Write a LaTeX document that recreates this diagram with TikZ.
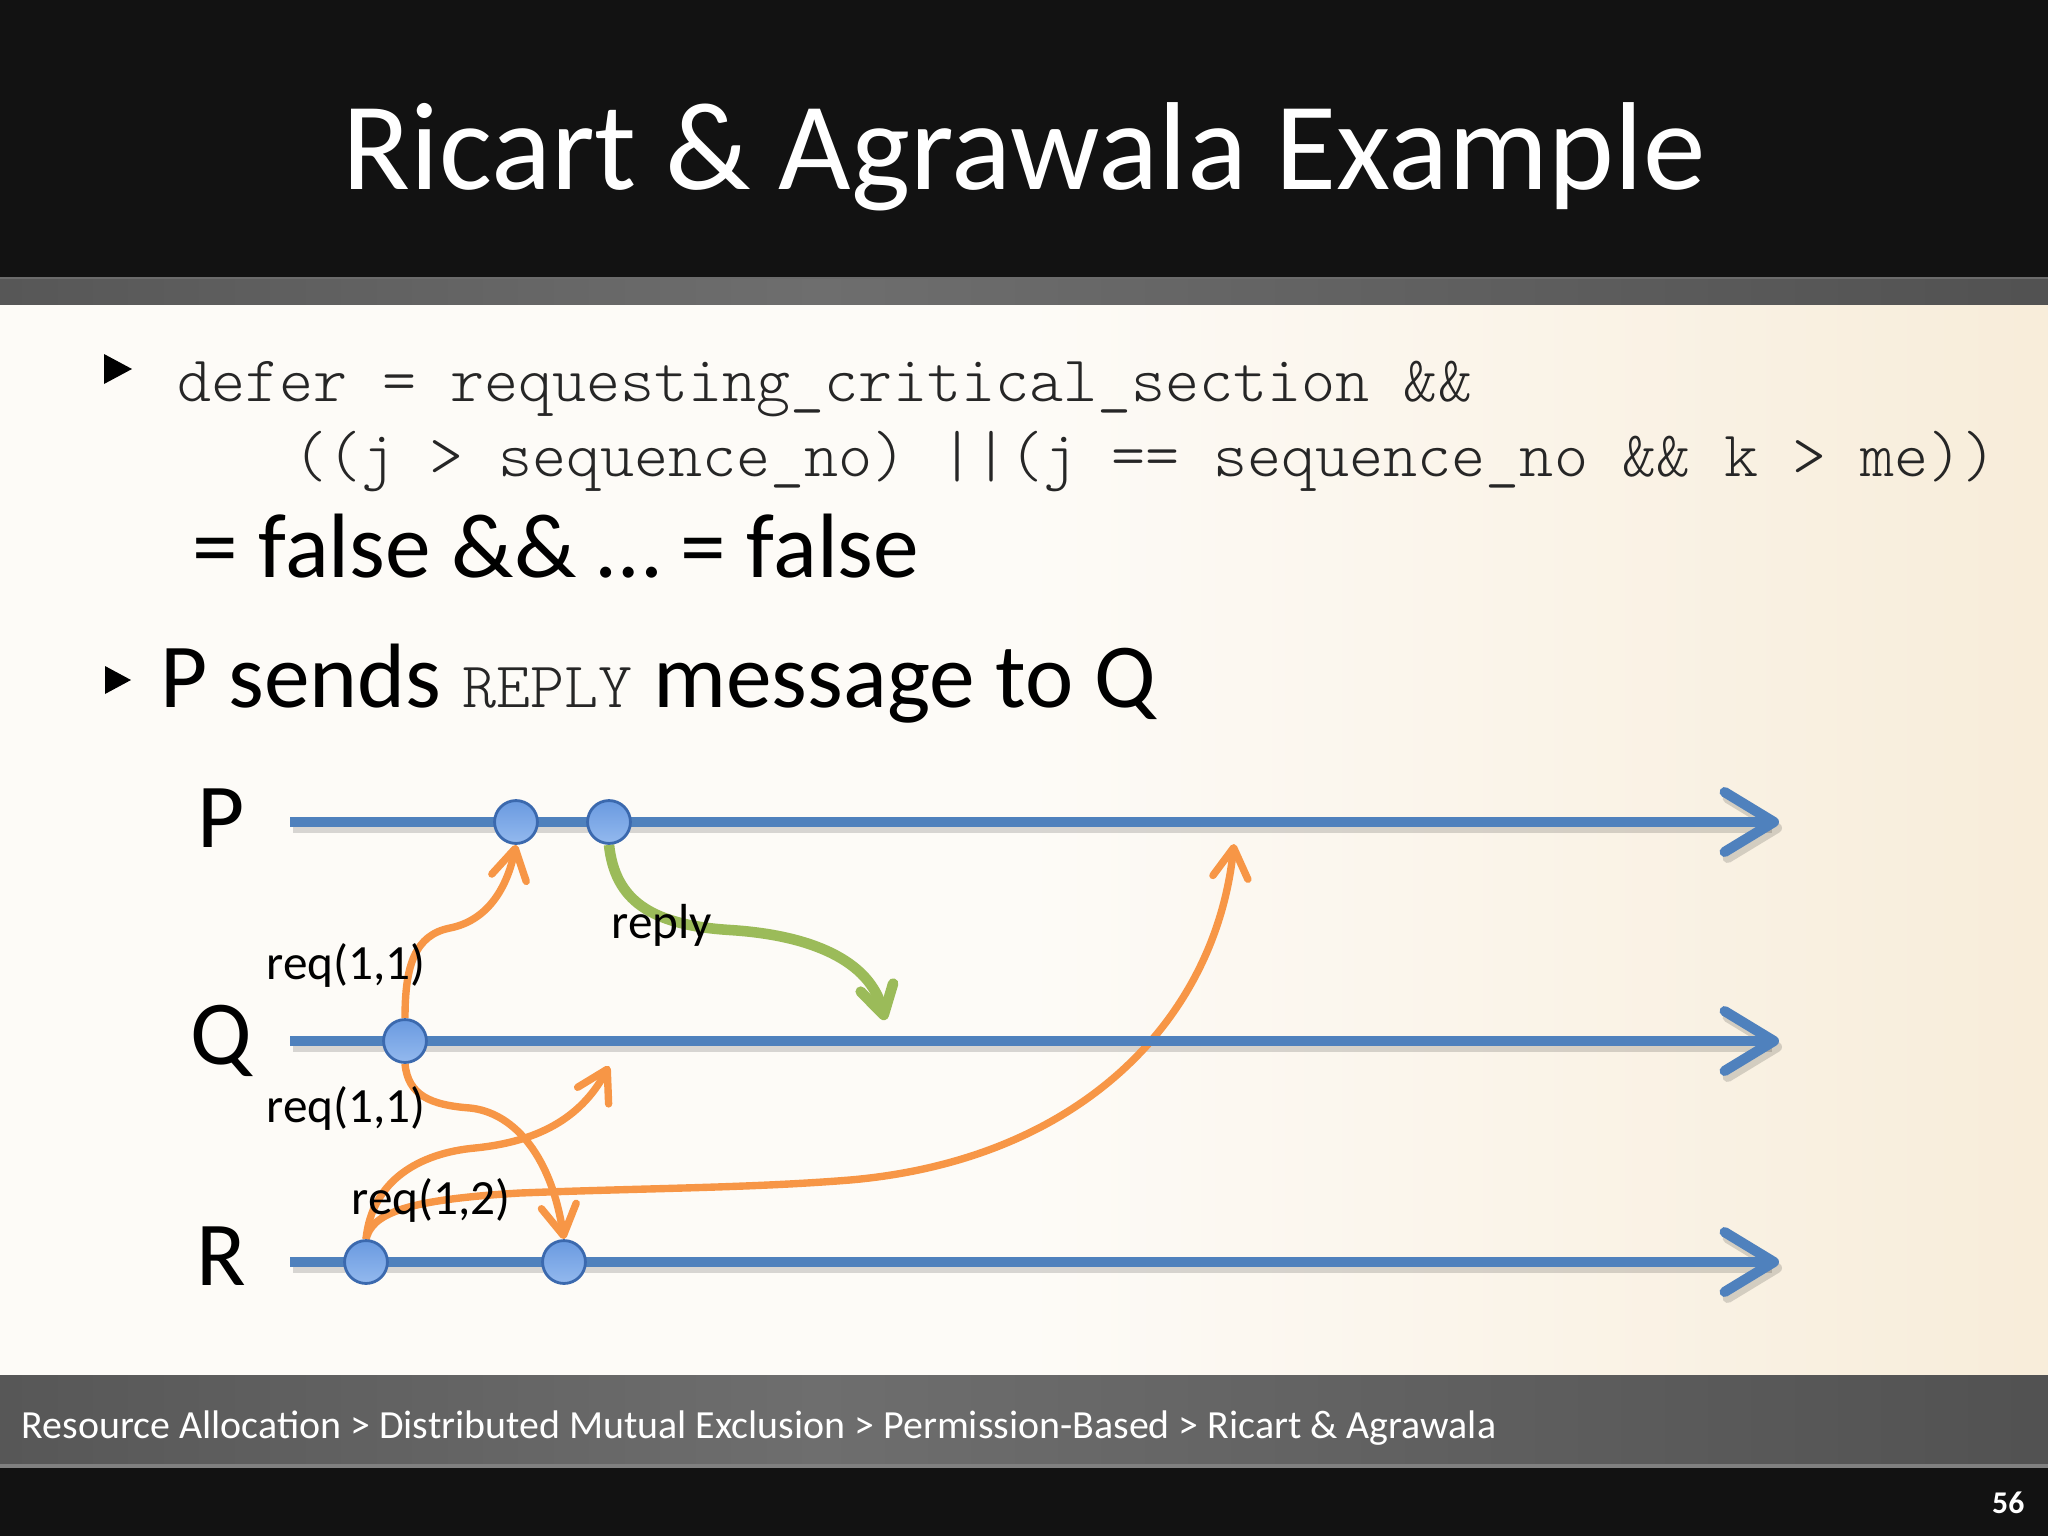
\documentclass[tikz,border=0pt]{standalone}
\usepackage{fontspec}
\setmainfont{Carlito}
\usetikzlibrary{arrows.meta}

\definecolor{tlblue}{HTML}{4F81BD}
\definecolor{arrorange}{HTML}{F79646}
\definecolor{replygreen}{HTML}{9BBB59}
\definecolor{bgL}{HTML}{FDFBF7}
\definecolor{bgR}{HTML}{F2DEBC}
\definecolor{topblack}{HTML}{121212}
\definecolor{barEdge}{HTML}{3A3A3A}
\definecolor{barMid}{HTML}{6E6E6E}
\definecolor{dotTop}{HTML}{6A9AE0}
\definecolor{dotBot}{HTML}{93B9EE}
\definecolor{dotEdge}{HTML}{3B69AE}
\definecolor{codegray}{HTML}{262626}

\pgfdeclarehorizontalshading{contentbg}{100bp}{color(0bp)=(bgL); color(50bp)=(bgL); color(100bp)=(bgR)}
\pgfdeclarehorizontalshading{barshade}{100bp}{color(0bp)=(barEdge); color(45bp)=(barMid); color(100bp)=(barEdge)}

\pgfdeclarelayer{bg}
\pgfdeclarelayer{edges}
\pgfsetlayers{bg,edges,main}

\newcommand{\codesize}{\ttfamily\fontseries{l}\fontsize{18.45}{22}\selectfont}

\begin{document}
\begin{tikzpicture}[x=0.01cm,y=-0.01cm,
  dot/.style={circle, minimum size=12.2pt, inner sep=0pt, draw=dotEdge, line width=0.8pt, top color=dotTop, bottom color=dotBot},
  timeline/.style={draw=tlblue, line width=2.9pt, -{Straight Barb[length=14pt,width=17pt,round]}},
  tlshadow/.style={draw=black, opacity=0.15, line width=2.9pt, -{Straight Barb[length=14pt,width=17pt,round]}},
  msg/.style={draw=arrorange, line width=2.1pt, -{Straight Barb[length=8.5pt,width=10pt,round]}},
  replymsg/.style={draw=replygreen, line width=3pt, -{Straight Barb[length=8pt,width=9.5pt,round]}},
  lbl/.style={font=\fontsize{14}{17}\selectfont, inner sep=0pt, anchor=base west},
  proc/.style={font=\fontsize{26}{31}\selectfont, inner sep=0pt, anchor=base},
  body/.style={font=\fontsize{26}{31}\selectfont, inner sep=0pt, anchor=base west},
  code/.style={font=\codesize, inner sep=0pt, anchor=base west, text=codegray},
]
\useasboundingbox (0,0) rectangle (2048,1536);

\begin{pgfonlayer}{bg}
\fill[topblack] (0,0) rectangle (2048,277);
\shade[shading=barshade] (0,277) rectangle (2048,305);
\fill[white!25!barEdge] (0,277) rectangle (2048,279);
\shade[shading=contentbg] (0,305) rectangle (2048,1375);
\shade[shading=barshade] (0,1375) rectangle (2048,1466);
\fill[gray] (0,1464) rectangle (2048,1468);
\fill[topblack] (0,1468) rectangle (2048,1536);
\end{pgfonlayer}

% title
\node[text=white, font=\fontsize{35.6}{42}\selectfont, anchor=base, inner sep=0pt] (title) at (1024,189) {Ricart \& Agrawala Example};

% bullets
\fill (104,354) -- (132,369) -- (104,384) -- cycle;
\node[code] (code1) at (177,401) {defer = requesting\_critical\_section \&\&};
\node[code] (code2) at (293,476) {((j > sequence\_no) ||(j == sequence\_no \&\& k > me))};
\node[body] (eq) at (192,577) {= false \&\& … = false};
\fill (105,666) -- (131,680) -- (105,694) -- cycle;
\node[body] (b2) at (160,707) {P sends {\codesize\color{codegray}REPLY} message to Q};

% timelines
\coordinate (Ps) at (290,822); \coordinate (Pe) at (1779,822);
\coordinate (Qs) at (290,1041); \coordinate (Qe) at (1779,1041);
\coordinate (Rs) at (290,1262); \coordinate (Re) at (1779,1262);
\begin{pgfonlayer}{bg}
\foreach \a/\b in {Ps/Pe,Qs/Qe,Rs/Re}
  \draw[tlshadow] ([shift={(3,6)}]\a) -- ([shift={(3,6)}]\b);
\end{pgfonlayer}
\draw[timeline] (Ps) -- (Pe);
\draw[timeline] (Qs) -- (Qe);
\draw[timeline] (Rs) -- (Re);

\node[proc] (P) at (221,847) {P};
\node[proc] (Q) at (221,1064) {Q};
\node[proc] (R) at (221,1285) {R};

% events
\node[dot] (p1) at (516,822) {};
\node[dot] (p2) at (609,822) {};
\node[dot] (q1) at (405,1041) {};
\node[dot] (r1) at (366,1262) {};
\node[dot] (r2) at (564,1262) {};

\coordinate (cQtip) at (609,1066);
\coordinate (dPtip) at (1234,844);
\coordinate (eQtip) at (885,1020);

\begin{pgfonlayer}{edges}
\draw[msg] (q1.north) .. controls (405,965) and (415,935) .. (450,928) .. controls (485,921) and (506,892) .. (p1.south);
\draw[msg] (q1.south) .. controls (408,1095) and (430,1105) .. (470,1108) .. controls (510,1112) and (550,1150) .. (r2.north);
\draw[msg] (r1.north) .. controls (372,1180) and (420,1153) .. (475,1148) .. controls (535,1142) and (580,1120) .. (cQtip);
\draw[msg] (r1.north) .. controls (372,1215) and (400,1200) .. (520,1193) .. controls (650,1188) and (750,1188) .. (850,1180) .. controls (1080,1160) and (1215,1020) .. (dPtip);
\draw[replymsg] (p2.south) .. controls (615,900) and (650,925) .. (730,930) .. controls (810,935) and (870,960) .. (eQtip);
\end{pgfonlayer}

\node[lbl] (l1) at (266,979) {req(1,1)};
\node[lbl] (l2) at (266,1122) {req(1,1)};
\node[lbl] (l3) at (351,1214) {req(1,2)};
\node[lbl] (l4) at (611,938) {reply};

% footer
\node[text=white, font=\fontsize{11.35}{13}\selectfont, anchor=base west, inner sep=0pt] (crumb) at (21,1438) {Resource Allocation > Distributed Mutual Exclusion > Permission-Based > Ricart \& Agrawala};
\node[text=white, font=\bfseries\fontsize{9}{11}\selectfont, anchor=base east, inner sep=0pt] (pg) at (2025,1513) {56};
\end{tikzpicture}
\end{document}
